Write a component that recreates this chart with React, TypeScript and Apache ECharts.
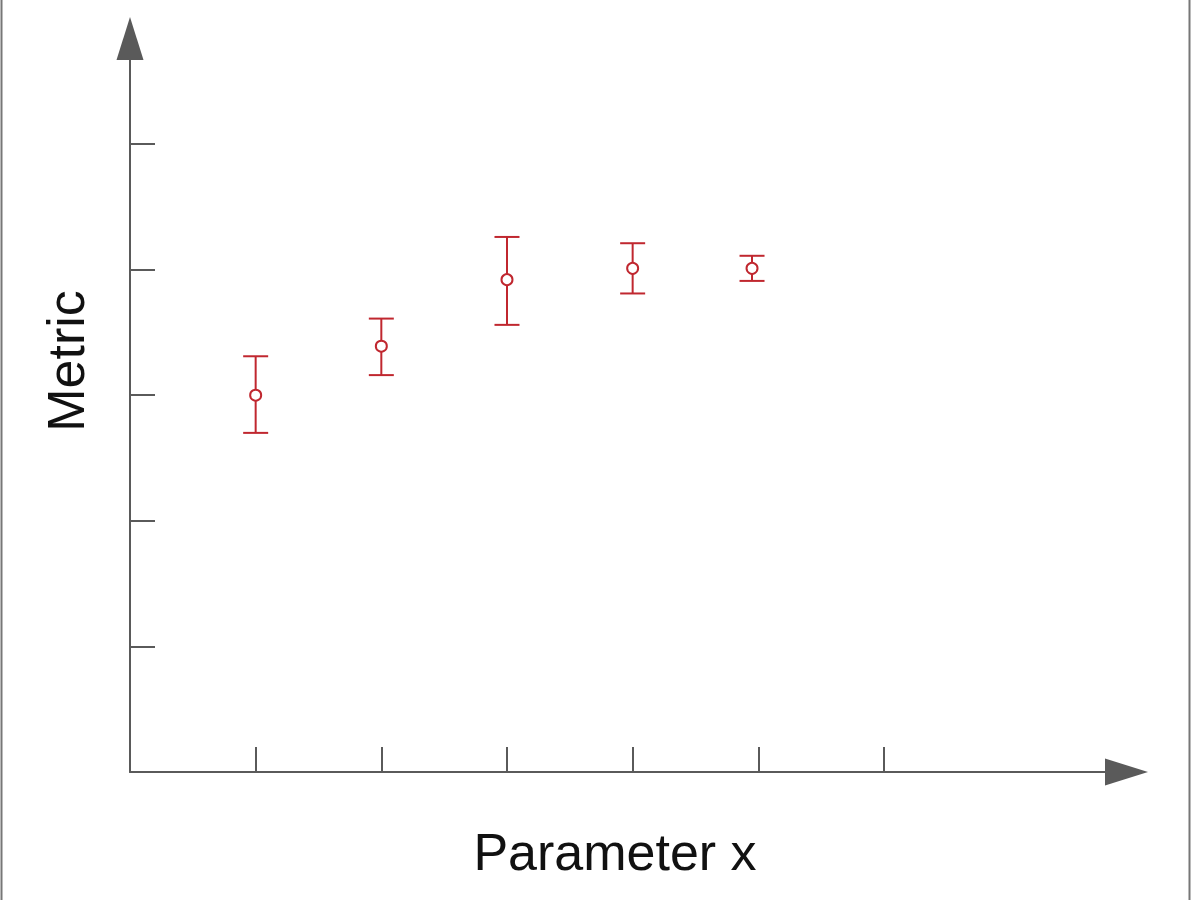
import React, { useEffect, useRef } from "react";
import * as echarts from "echarts";

const xValues = [1, 2, 3, 4, 4.95];
const means = [3.0, 3.39, 3.92, 4.01, 4.01];
const highs = [3.31, 3.61, 4.26, 4.21, 4.11];
const lows = [2.7, 3.16, 3.56, 3.81, 3.91];
const xTicks = [1, 2, 3, 4, 5, 6];
const yTicks = [1, 2, 3, 4, 5];

const RED = "#c0272f";
const AXIS = "#5a5a5a";

export default function App() {
  const ref = useRef<HTMLDivElement>(null);
  useEffect(() => {
    if (!ref.current) return;
    const chart = echarts.init(ref.current, null, { renderer: "svg" });
    const data = xValues.map((x, i) => [x, means[i], lows[i], highs[i]]);
    chart.setOption({
      animation: false,
      backgroundColor: "#ffffff",
      grid: { left: 130, right: 64.5, top: 38.5, bottom: 128 },
      xAxis: {
        type: "value",
        min: 0,
        max: 7.93,
        splitLine: { show: false },
        axisLine: {
          show: true,
          symbol: ["none", "triangle"],
          symbolSize: [27, 43],
          lineStyle: { color: AXIS, width: 2 },
        },
        axisTick: {
          show: true,
          inside: true,
          length: 25,
          customValues: xTicks,
          lineStyle: { color: AXIS, width: 2 },
        },
        axisLabel: { show: false },
      },
      yAxis: {
        type: "value",
        min: 0,
        max: 5.84,
        splitLine: { show: false },
        axisLine: {
          show: true,
          symbol: ["none", "triangle"],
          symbolSize: [27, 43],
          lineStyle: { color: AXIS, width: 2 },
        },
        axisTick: {
          show: true,
          inside: true,
          length: 25,
          customValues: yTicks,
          lineStyle: { color: AXIS, width: 2 },
        },
        axisLabel: { show: false },
      },
      graphic: [
        { type: "line", shape: { x1: 1.5, y1: 0, x2: 1.5, y2: 900 }, style: { stroke: "#777", lineWidth: 2 } },
        { type: "line", shape: { x1: 1189.5, y1: 0, x2: 1189.5, y2: 900 }, style: { stroke: "#777", lineWidth: 2 } },
        {
          type: "text",
          x: 615,
          y: 852,
          style: {
            text: "Parameter x",
            fontSize: 52,
            fontFamily: "Liberation Sans, Arial, sans-serif",
            fill: "#111",
            align: "center",
            verticalAlign: "middle",
          },
        },
        {
          type: "text",
          x: 66,
          y: 361,
          rotation: Math.PI / 2,
          style: {
            text: "Metric",
            fontSize: 52,
            fontFamily: "Liberation Sans, Arial, sans-serif",
            fill: "#111",
            align: "center",
            verticalAlign: "middle",
          },
        },
      ],
      series: [
        {
          type: "custom",
          clip: false,
          data,
          renderItem: (params: any, api: any) => {
            const x = api.value(0);
            const c = api.coord([x, api.value(1)]);
            const lo = api.coord([x, api.value(2)]);
            const hi = api.coord([x, api.value(3)]);
            const hw = 12.5;
            const r = 5.5;
            const ls = { stroke: RED, lineWidth: 2 };
            return {
              type: "group",
              children: [
                { type: "line", shape: { x1: c[0], y1: hi[1], x2: c[0], y2: c[1] - r }, style: ls },
                { type: "line", shape: { x1: c[0], y1: c[1] + r, x2: c[0], y2: lo[1] }, style: ls },
                { type: "line", shape: { x1: c[0] - hw, y1: hi[1], x2: c[0] + hw, y2: hi[1] }, style: ls },
                { type: "line", shape: { x1: c[0] - hw, y1: lo[1], x2: c[0] + hw, y2: lo[1] }, style: ls },
                { type: "circle", shape: { cx: c[0], cy: c[1], r }, style: { fill: "#fff", stroke: RED, lineWidth: 2 } },
              ],
            };
          },
        },
      ],
    });
    return () => chart.dispose();
  }, []);
  return (
    <div
      ref={ref}
      style={{ position: "fixed", left: 0, top: 0, width: 1191, height: 900 }}
    />
  );
}
